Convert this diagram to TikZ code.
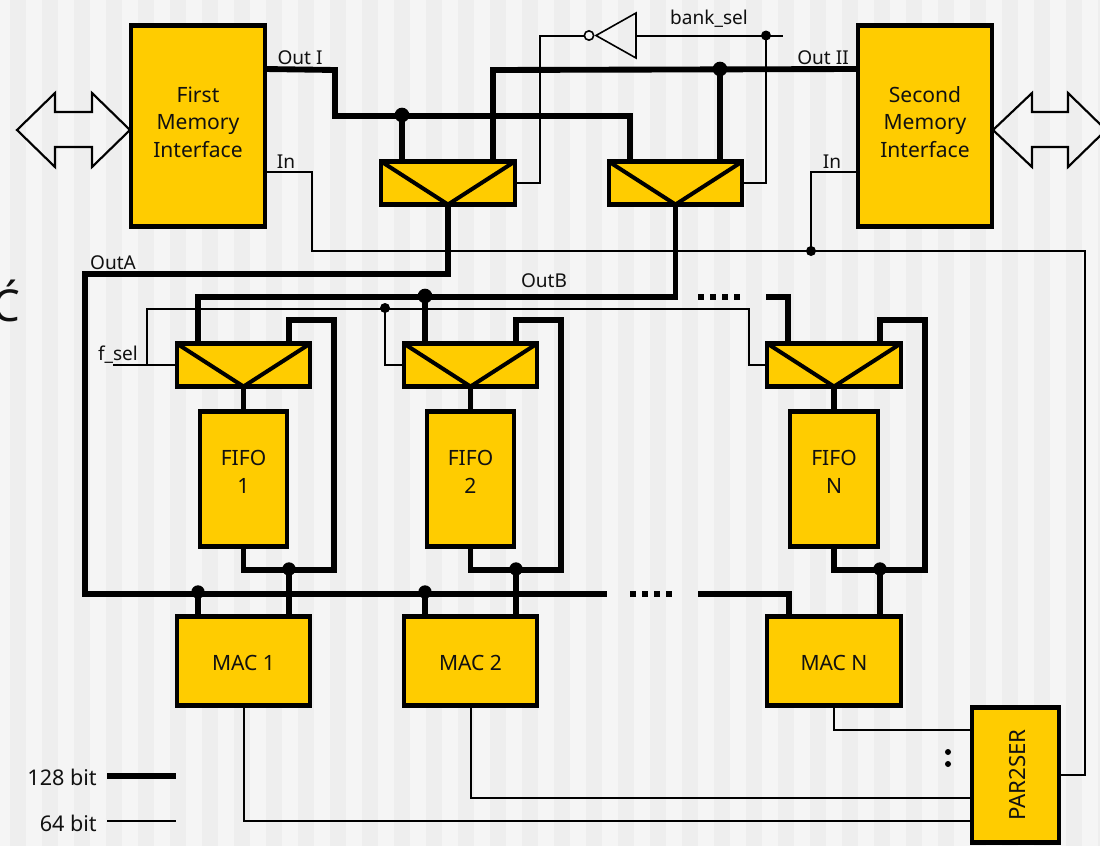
\documentclass[tikz,border=0pt]{standalone}
\usepackage{fontspec}
\setmainfont{Noto Sans}
\usetikzlibrary{calc}
\definecolor{boxy}{HTML}{FFCC00}
\definecolor{bgl}{HTML}{F5F5F5}
\definecolor{bgd}{HTML}{EEEEEE}
\definecolor{ink}{HTML}{111111}
\newcommand{\liftup}[2]{\raisebox{#1}[\height][\depth]{\begin{tabular}{@{}c@{}}#2\end{tabular}}}
\tikzset{
  px/.style={x=0.75pt,y=-0.75pt},
  box/.style={draw=black,fill=boxy,line width=3.2pt,inner sep=0pt,outer sep=0pt,text=ink,font=\fontsize{15.8pt}{20.6pt}\selectfont,align=center,line join=miter},
  membox/.style={box,minimum width=100.25pt,minimum height=150.75pt},
  muxbox/.style={box,minimum width=100.25pt,minimum height=32.25pt},
  fifobox/.style={box,minimum width=65.75pt,minimum height=101.25pt},
  macbox/.style={box,minimum width=100.25pt,minimum height=66.75pt},
  parbox/.style={box,minimum width=65.75pt,minimum height=101.25pt},
  wide/.style={line width=4.4pt,line join=miter,draw=black},
  narrow/.style={line width=1.5pt,line join=miter,draw=black},
  vee/.style={line width=3pt,line join=miter,draw=black},
  jbig/.style={circle,fill=black,inner sep=0pt,minimum size=11pt},
  jmid/.style={circle,fill=black,inner sep=0pt,minimum size=10pt},
  jsmall/.style={circle,fill=black,inner sep=0pt,minimum size=7.5pt},
  lab/.style={inner sep=0pt,text=ink,font=\fontsize{14.3pt}{16pt}\selectfont},
  dblarrow/.style={draw=black,line width=1.6pt,line join=miter},
  squares/.style={wide,dash pattern=on 4.4pt off 4.6pt},
}
\begin{document}
\begin{tikzpicture}[px]
\clip (0,0) rectangle (1100,846);
\fill[bgl] (0,0) rectangle (1100,846);
\foreach \k in {0,...,34} \fill[bgd] ({10+32*\k},0) rectangle ({26+32*\k},846);
\node[anchor=base east,inner sep=0pt,text=ink,font=\fontsize{33pt}{36pt}\selectfont] (cut) at (21,321) {Ć};

% boxes
\node[membox] (first) at (198,126) {\liftup{1.2pt}{First\\Memory\\Interface}};
\node[membox] (second) at (925,126) {\liftup{1.2pt}{Second\\Memory\\Interface}};
\node[muxbox] (bm1) at (448,183) {};
\node[muxbox] (bm2) at (675.5,183) {};
\node[muxbox] (mux1) at (243.5,365) {};
\node[muxbox] (mux2) at (470.5,365) {};
\node[muxbox] (mux3) at (834,365) {};
\node[fifobox] (fifo1) at (243.5,479) {\liftup{3.8pt}{FIFO\\1}};
\node[fifobox] (fifo2) at (470.5,479) {\liftup{3.8pt}{FIFO\\2}};
\node[fifobox] (fifo3) at (834,479) {\liftup{3.8pt}{FIFO\\N}};
\node[macbox] (mac1) at (243.5,661) {\liftup{-2.7pt}{MAC 1}};
\node[macbox] (mac2) at (470.5,661) {\liftup{-2.7pt}{MAC 2}};
\node[macbox] (mac3) at (834,661) {\liftup{-2.7pt}{MAC N}};
\node[parbox] (par) at (1015.5,775) {\hspace*{3pt}\rotatebox{90}{\fontsize{16.7pt}{20pt}\selectfont PAR2SER}};
\foreach \m in {bm1,bm2,mux1,mux2,mux3}
  \draw[vee] (\m.north west) -- (\m.south) -- (\m.north east);

% junctions
\node[jbig] (jA) at (402,115) {};
\node[jbig] (jB) at (720,69) {};
\node[jbig] (jC) at (425,296) {};
\node[jmid] (jm1) at (198,592) {};
\node[jmid] (jm2) at (425,592) {};
\node[jmid] (jf1) at (289,569) {};
\node[jmid] (jf2) at (516,569) {};
\node[jmid] (jf3) at (880,569) {};
\node[jsmall] (js1) at (766,35.5) {};
\node[jsmall] (js2) at (811,251) {};
\node[jsmall] (js3) at (385,308) {};

% free ends and bends
\coordinate (outA) at (85,274);
\coordinate (busB) at (607,594);
\coordinate (busC) at (698,594);
\coordinate (topC) at (766,297);
\coordinate (bankend) at (783,35.5);
\coordinate (fselend) at (113,365);

% 128 bit buses
\draw[wide] (first.east |- jB) -- (335,70) -- (335,116) -- (630,116) -- (630,161);
\draw[wide] (jA.center) -- (jA |- bm1.north);
\draw[wide] (second.west |- jB) -- (493,70) -- (493,161);
\draw[wide] (jB.center) -- (jB |- bm2.north);
\draw[wide] (bm1.south) -- (448,274) -- (outA) -- (85,594) -- (busB);
\draw[squares] (630,594) -- (672,594);
\draw[wide] (busC) -- (789,594) -- (789,616);
\draw[wide] (bm2.south) -- (675.5,297) -- (198,297) -- (198,343);
\draw[wide] (jC.center) -- (jC |- mux2.north);
\draw[squares] (698,297) -- (740,297);
\draw[wide] (topC) -- (788,297) -- (788,343);
\draw[wide] (jm1.center) -- (jm1 |- mac1.north);
\draw[wide] (jm2.center) -- (jm2 |- mac2.north);
\foreach \i/\x/\r in {1/243.5/334,2/470.5/561,3/834/925}{
  \draw[wide] (mux\i.south) -- (fifo\i.north);
  \draw[wide] (fifo\i.south) -- (\x,570) -- (\r,570) -- (\r,320) -- ({\r-45},320) -- ({\r-45},343);
}
\draw[wide] (jf1.center) -- (jf1 |- mac1.north);
\draw[wide] (jf2.center) -- (jf2 |- mac2.north);
\draw[wide] (jf3.center) -- (jf3 |- mac3.north);

% 64 bit lines
\draw[narrow] (first.east |- 0,172) -- (312,172) -- (312,251) -- (1085,251) -- (1085,775) -- (par.east);
\draw[narrow] (js2.center) -- (811,172) -- (second.west |- 0,172);
\node[draw=black,line width=1.2pt,fill=bgl,circle,inner sep=0pt,minimum size=7pt] (bubble) at (589,35.5) {};
\coordinate (invtip) at (596,35.5);
\draw[narrow,line width=1.2pt,fill=none] (invtip) -- (636,13) -- (636,58) -- cycle;
\draw[narrow] (bubble.west) -- (540,35.5) -- (540,183) -- (bm1.east);
\draw[narrow] (636,35.5) -- (js1.center) -- (bankend);
\draw[narrow] (js1.center) -- (766,183) -- (bm2.east);
\draw[narrow] (fselend) -- (mux1.west);
\draw[narrow] (147,365) -- (147,309) -- (749,309) -- (749,365) -- (mux3.west);
\draw[narrow] (js3.center) -- (385,365) -- (mux2.west);
\draw[narrow] (mac3.south) -- (834,730) -- (par.west |- 0,730);
\draw[narrow] (mac2.south) -- (470.5,798) -- (par.west |- 0,798);
\draw[narrow] (mac1.south) -- (243.5,821) -- (par.west |- 0,821);

% double arrows
\draw[dblarrow] (17,130) -- (55,93) -- (55,112) -- (92,112) -- (92,93) -- (130,130) -- (92,167) -- (92,147) -- (55,147) -- (55,167) -- cycle;
\draw[dblarrow] (993,130) -- (1032,93) -- (1032,112) -- (1068,112) -- (1068,93) -- (1106,130) -- (1068,167) -- (1068,147) -- (1032,147) -- (1032,167) -- cycle;

% colon
\node[circle,fill=black,inner sep=0pt,minimum size=4.5pt] (c1) at (948,752) {};
\node[circle,fill=black,inner sep=0pt,minimum size=4.5pt] (c2) at (948,764) {};

% labels
\node[lab] (lOutI) at (300,58) {Out I};
\node[lab] (lIn) at (286,161.5) {In};
\node[lab] (lOutII) at (823,58) {Out II};
\node[lab] (lIn2) at (832,161.5) {In};
\node[lab] (lbank) at (709,18.5) {bank\_sel};
\node[lab] (lOutA) at (113,262.5) {OutA};
\node[lab] (lOutB) at (544,280.5) {OutB};
\node[lab] (lfsel) at (118,354.5) {f\_sel};

% legend
\node[lab,anchor=east,font=\fontsize{16.2pt}{18pt}\selectfont] (l128) at (97,777) {128 bit};
\node[lab,anchor=east,font=\fontsize{16.2pt}{18pt}\selectfont] (l64) at (97,823) {64 bit};
\coordinate (l128a) at (107,776);
\coordinate (l128b) at (176,776);
\coordinate (l64a) at (107,821);
\coordinate (l64b) at (176,821);
\draw[wide] (l128a) -- (l128b);
\draw[narrow] (l64a) -- (l64b);
\end{tikzpicture}
\end{document}
